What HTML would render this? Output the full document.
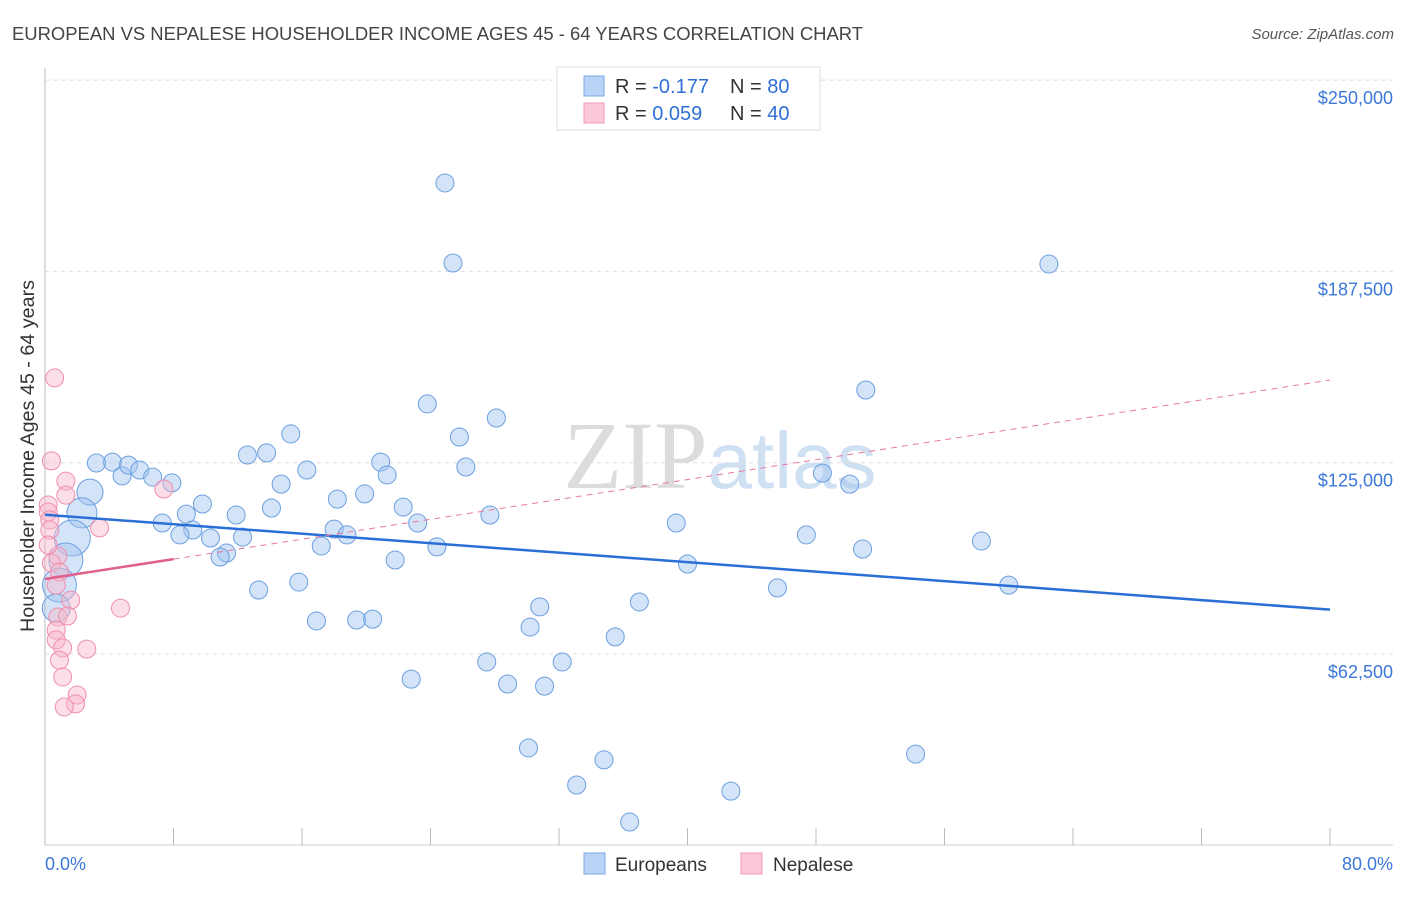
<!DOCTYPE html>
<html><head><meta charset="utf-8"><style>
body{margin:0;background:#fff;font-family:"Liberation Sans",sans-serif}
#c{position:relative;width:1406px;height:892px}
</style></head><body>
<div id="c">
<svg id="s" width="1406" height="892" xmlns="http://www.w3.org/2000/svg">
<text x="12" y="40" font-size="18" fill="#444" textLength="851" lengthAdjust="spacingAndGlyphs">EUROPEAN VS NEPALESE HOUSEHOLDER INCOME AGES 45 - 64 YEARS CORRELATION CHART</text>
<text x="1394" y="39" font-size="15" fill="#555" font-style="italic" text-anchor="end">Source: ZipAtlas.com</text>
<text x="720" y="488" font-size="96" fill="#dcdcdc" text-anchor="middle" font-family="Liberation Serif">ZIP<tspan fill="#cfe0f3" font-family="Liberation Sans" font-size="80">atlas</tspan></text>
<text transform="translate(34,456) rotate(-90)" font-size="19" fill="#333" text-anchor="middle" textLength="352" lengthAdjust="spacingAndGlyphs">Householder Income Ages 45 - 64 years</text>
<g id="grid"></g><g id="pts"></g><g id="lines"></g>
<g>
<rect x="557" y="67" width="263" height="63" fill="#fff" stroke="#ddd"/>
<rect x="584" y="76" width="20" height="20" fill="#b8d3f5" stroke="#7aa8e6"/>
<rect x="584" y="103" width="20" height="20" fill="#fac8d6" stroke="#f09ab4"/>
<text x="615" y="93" font-size="20" fill="#333">R = <tspan fill="#2f6fd6">-0.177</tspan><tspan x="730">N = </tspan><tspan fill="#2f6fd6">80</tspan></text>
<text x="615" y="120" font-size="20" fill="#333">R = <tspan fill="#2f6fd6"> 0.059</tspan><tspan x="730">N = </tspan><tspan fill="#2f6fd6">40</tspan></text>
</g>
<g>
<rect x="584" y="853" width="21" height="21" fill="#b8d3f5" stroke="#7aa8e6"/>
<text x="615" y="871" font-size="19" fill="#333">Europeans</text>
<rect x="741" y="853" width="21" height="21" fill="#fac8d6" stroke="#f09ab4"/>
<text x="773" y="871" font-size="19" fill="#333">Nepalese</text>
</g>
<text x="45" y="870" font-size="18" fill="#3b78d8">0.0%</text>
<text x="1393" y="870" font-size="18" fill="#3b78d8" text-anchor="end">80.0%</text>
</svg></div>
<script>
const blueX=[24.9,25.4,62.5,23.8,51.1,28.1,15.3,25.8,13.8,12.6,20.9,16.3,26.2,21.3,48.4,50.1,14.7,19.9,18.2,9.8,22.3,14.1,11.9,27.7,8.8,7.3,23.2,18.0,39.3,9.2,18.8,8.4,10.3,12.3,47.4,17.2,24.4,50.9,58.3,11.3,10.9,21.8,40.0,60.0,45.6,15.8,13.3,37.0,30.8,30.2,16.9,19.4,20.4,35.5,27.5,32.2,22.8,28.8,31.1,30.1,34.8,54.2,33.1,42.7,36.4,4.2,3.2,4.8,5.2,5.9,6.7,7.9,2.8,2.3,1.7,1.3,0.9,0.7];
const blueY=[216400,190240,189900,144200,148750,139600,134400,133400,128200,127500,125200,122600,123600,121000,121600,118000,118000,114800,113100,111500,110500,110200,107900,107900,108200,105300,105300,103300,105300,103000,101400,101400,100400,100700,101400,97800,97500,96800,99400,95500,94200,93200,91900,85000,84100,86000,83400,79500,77900,71300,73300,73600,73900,68100,59900,59900,54300,52700,52000,31800,27900,29800,19700,17700,7600,125200,124900,120700,124200,122600,120300,118400,115400,108600,100400,93200,85000,77500];
const blueR=[9,9,9,9,9,9,9,9,9,9,9,9,9,9,9,9,9,9,9,9,9,9,9,9,9,9,9,9,9,9,9,9,9,9,9,9,9,9,9,9,9,9,9,9,9,9,9,9,9,9,9,9,9,9,9,9,9,9,9,9,9,9,9,9,9,9,9,9,9,9,9,9,13,15,18,17,17,14];
const pinkX=[0.6,0.4,1.3,1.3,3.4,7.4,0.2,0.2,0.3,0.3,0.8,0.4,0.9,0.7,1.6,4.7,0.8,1.4,0.7,0.7,1.1,2.6,0.9,1.1,2.0,1.9,1.2,0.2];
const pinkY=[152700,125600,119000,114400,103700,116400,111200,108900,106300,103000,94500,92200,89300,85000,80100,77500,74600,74900,70300,67100,64500,64100,60500,55000,49100,46200,45200,98100];
const yTicks=[62500,125000,187500,250000];
const yTickLabels=["$62,500","$125,000","$187,500","$250,000"];
const xTicks=[0,8,16,24,32,40,48,56,64,72,80];
const blueTrend=[108000,77000];
const pinkTrend=[87000,152000];
const NS="http://www.w3.org/2000/svg";
const X=v=>45+v*(1285/80);
const Y=v=>654-(v-62500)*191.3/62500;
function mk(t,a,p){const e=document.createElementNS(NS,t);for(const k in a)e.setAttribute(k,a[k]);p.appendChild(e);return e;}
const grid=document.getElementById('grid'),pts=document.getElementById('pts'),lines=document.getElementById('lines');
mk('line',{x1:45,y1:68,x2:45,y2:845,stroke:'#bbb'},grid);
mk('line',{x1:45,y1:845,x2:1393,y2:845,stroke:'#ccc'},grid);
yTicks.forEach((t,i)=>{
 const g=mk('line',{x1:45,y1:Y(t),x2:1393,y2:Y(t),stroke:'#ddd','stroke-dasharray':'4,4'},grid);
 
 
 const tx=mk('text',{x:1393,y:Y(t)+24,'font-size':18,fill:'#3b78d8','text-anchor':'end'},grid);
 tx.textContent=yTickLabels[i];
 
 
});
xTicks.forEach(t=>{
 const l=mk('line',{x1:X(t),y1:828,x2:X(t),y2:845,stroke:'#bbb'},grid);
 
 
});
blueX.forEach((x,i)=>{
 const c=mk('circle',{cx:X(x),cy:Y(blueY[i]),r:blueR[i],fill:'rgba(160,196,240,0.45)',stroke:'#6c9fe0','stroke-width':1},pts);
 
 
});
pinkX.forEach((x,i)=>{
 const c=mk('circle',{cx:X(x),cy:Y(pinkY[i]),r:9,fill:'rgba(248,182,202,0.45)',stroke:'#ef8fae','stroke-width':1},pts);
 
 
});
const bl=mk('line',{x1:X(0),y1:Y(blueTrend[0]),x2:X(80),y2:Y(blueTrend[1]),stroke:'#2a6fd6','stroke-width':2.5},lines);


const pf=(v)=>pinkTrend[0]+(pinkTrend[1]-pinkTrend[0])*v/80;
const pd=mk('line',{x1:X(8),y1:Y(pf(8)),x2:X(80),y2:Y(pinkTrend[1]),stroke:'#e8799e','stroke-width':1,'stroke-dasharray':'6,5'},lines);


const ps=mk('line',{x1:X(0),y1:Y(pinkTrend[0]),x2:X(8),y2:Y(pf(8)),stroke:'#e0608c','stroke-width':2.5},lines);


</script>
</body></html>
